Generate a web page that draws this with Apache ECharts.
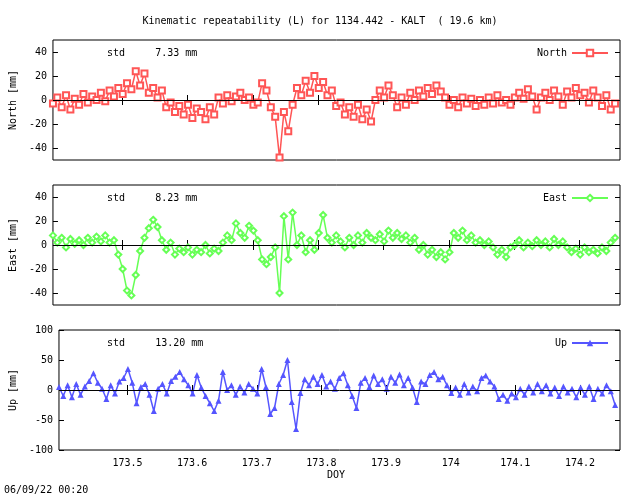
<!DOCTYPE html>
<html style="height: 100%">
<head>
<meta charset="utf-8">
<title>ECharts</title>
<script src="https://cdn.jsdelivr.net/npm/echarts@6/dist/echarts.min.js"></script>
</head>
<body style="height: 100%; margin: 0; background: #fff">
<div id="container" style="width: 640px; height: 496px"></div>
<script type="text/javascript">
// sampling grid (day of year)
var t0 = 173.394, dt = 0.00667;
var north = [-3,2,-6,4,-8,1,-4,5,-2,3, 0,6,-1,8,3,10,5,14,9,24, 12,22,6,10,2,8,-6,-2,-10,-5,
  -12,-4,-15,-7,-10,-16,-6,-12,2,-3, 4,-1,3,6,0,2,-4,-2,14,8, -6,-14,-48,-10,-26,-4,10,4,16,6,
  20,10,15,4,8,-5,-2,-12,-6,-14, -4,-16,-8,-18,0,8,2,12,4,-6, 2,-4,6,0,8,3,10,5,12,7,
  2,-4,0,-6,2,-3,1,-5,0,-4, 2,-3,4,-2,0,-4,2,6,1,9, 3,-8,2,6,0,8,3,-4,7,2, 10,4,6,-2,8,2,-5,4,-8,-3];
var east = [8,2,6,-2,5,1,4,0,6,2, 7,3,8,2,4,-8,-20,-38,-42,-25, -5,6,14,21,15,4,-4,2,-8,-3,
  -6,-2,-8,-4,-6,0,-7,-3,-5,2, 8,4,18,10,6,16,12,4,-12,-16, -10,-2,-40,24,-12,27,0,8,-6,4,
  -4,10,25,6,2,8,3,-2,6,0, 8,2,10,6,4,9,3,12,6,10, 5,8,2,6,-4,0,-8,-4,-10,-6,
  -12,-6,10,6,12,4,8,2,4,0, 3,-2,-8,-4,-10,-2,0,4,-2,2, -1,4,0,3,-2,5,0,3,-2,-6, -3,-8,-2,-6,-4,-7,-2,-5,2,6];
var up = [5,-10,8,-12,10,-8,6,15,28,12, 2,-15,8,-6,14,20,35,12,-22,5, 10,-8,-35,2,10,-6,15,22,30,18,
  8,-6,25,4,-10,-22,-35,-18,30,0, 8,-8,6,-4,10,2,-6,35,5,-40, -30,10,25,50,-20,-65,-5,18,8,22,
  10,25,6,14,2,20,28,8,-10,-30, 12,20,5,24,10,18,2,22,12,26, 8,20,4,-20,14,10,25,30,18,22,
  8,-5,4,-8,10,-4,6,-2,20,24, 14,6,-15,-8,-18,-6,-12,2,-8,6, -4,10,-2,8,-6,4,-10,6,-4,2, -12,4,-8,6,-15,2,-6,8,-2,-25];
var xTicks = [173.5, 173.6, 173.7, 173.8, 173.9, 174, 174.1, 174.2];
var neTicks = [-40, -20, 0, 20, 40];
var upTicks = [-100, -50, 0, 50, 100];
var panels = [
  {name: 'North', label: 'North [mm]', std: 'std     7.33 mm', data: north, color: '#ff5555', symbol: 'emptyRect', min: -50, max: 50, ticks: neTicks, top: 40},
  {name: 'East', label: 'East [mm]', std: 'std     8.23 mm', data: east, color: '#66ff55', symbol: 'emptyDiamond', min: -50, max: 50, ticks: neTicks, top: 185},
  {name: 'Up', label: 'Up [mm]', std: 'std     13.20 mm', data: up, color: '#5555ff', symbol: 'triangle', min: -100, max: 100, ticks: upTicks, top: 330}
];

var font = 'DejaVu Sans Mono';
var myChart = echarts.init(document.getElementById('container'));
var grid = [], xAxis = [], yAxis = [], series = [], graphic = [], legend = [];

panels.forEach(function (p, i) {
  grid.push({left: 48, width: 572, top: p.top, height: 120, show: true, borderColor: '#000', borderWidth: 1, backgroundColor: 'transparent'});
  xAxis.push({
    type: 'value', gridIndex: i, min: 173.394, max: 174.262,
    axisLine: {show: false}, splitLine: {show: false},
    axisTick: {inside: true, length: 5, lineStyle: {color: '#000'}, customValues: xTicks},
    axisLabel: {show: i == 2, customValues: xTicks, color: '#000', fontFamily: font, fontSize: 10, margin: 8,
      formatter: function (v) { return String(Math.round(v * 10) / 10); }}
  });
  xAxis.push({
    type: 'value', gridIndex: i, position: 'top', min: 173.394, max: 174.262,
    axisLine: {show: false}, splitLine: {show: false}, axisLabel: {show: false},
    axisTick: {inside: true, length: 5, lineStyle: {color: '#000'}, customValues: xTicks}
  });
  yAxis.push({
    type: 'value', gridIndex: i, min: p.min, max: p.max,
    name: p.label, nameLocation: 'middle', nameGap: 32, nameRotate: 90,
    nameTextStyle: {color: '#000', fontFamily: font, fontSize: 10},
    axisLine: {show: false}, splitLine: {show: false},
    axisTick: {inside: true, length: 5, lineStyle: {color: '#000'}, customValues: p.ticks},
    axisLabel: {customValues: p.ticks, color: '#000', fontFamily: font, fontSize: 10, margin: 6}
  });
  yAxis.push({
    type: 'value', gridIndex: i, position: 'right', min: p.min, max: p.max,
    axisLine: {show: false}, splitLine: {show: false}, axisLabel: {show: false},
    axisTick: {inside: true, length: 5, lineStyle: {color: '#000'}, customValues: p.ticks}
  });
  series.push({
    name: p.name, type: 'line', xAxisIndex: i * 2, yAxisIndex: i * 2,
    data: p.data.map(function (v, k) { return [t0 + k * dt, v]; }),
    symbol: p.symbol, symbolSize: 6, showAllSymbol: true,
    lineStyle: {color: p.color, width: 1.5}, itemStyle: {color: p.color, borderWidth: 1.5},
    animation: false,
    markLine: {silent: true, symbol: 'none', label: {show: false},
      lineStyle: {color: '#000', type: 'solid', width: 1}, data: [{yAxis: 0}]},
    z: 3
  });
  legend.push({
    data: [p.name], top: p.top + 3, right: 26, align: 'right', itemWidth: 36, itemHeight: 8,
    textStyle: {color: '#000', fontFamily: font, fontSize: 10}
  });
  graphic.push({type: 'text', left: 107, top: p.top + 8,
    style: {text: p.std, fill: '#000', font: '10px ' + font}});
});

graphic.push({type: 'text', left: 'center', top: 16,
  style: {text: 'Kinematic repeatability (L) for 1134.442 - KALT  ( 19.6 km)', fill: '#000', font: '10px ' + font}});
graphic.push({type: 'text', left: 327, top: 470, style: {text: 'DOY', fill: '#000', font: '10px ' + font}});
graphic.push({type: 'text', left: 4, top: 485, style: {text: '06/09/22 00:20', fill: '#000', font: '10px ' + font}});

var option = {
  animation: false,
  grid: grid, xAxis: xAxis, yAxis: yAxis, series: series, legend: legend, graphic: graphic
};
myChart.setOption(option);
</script>
</body>
</html>
